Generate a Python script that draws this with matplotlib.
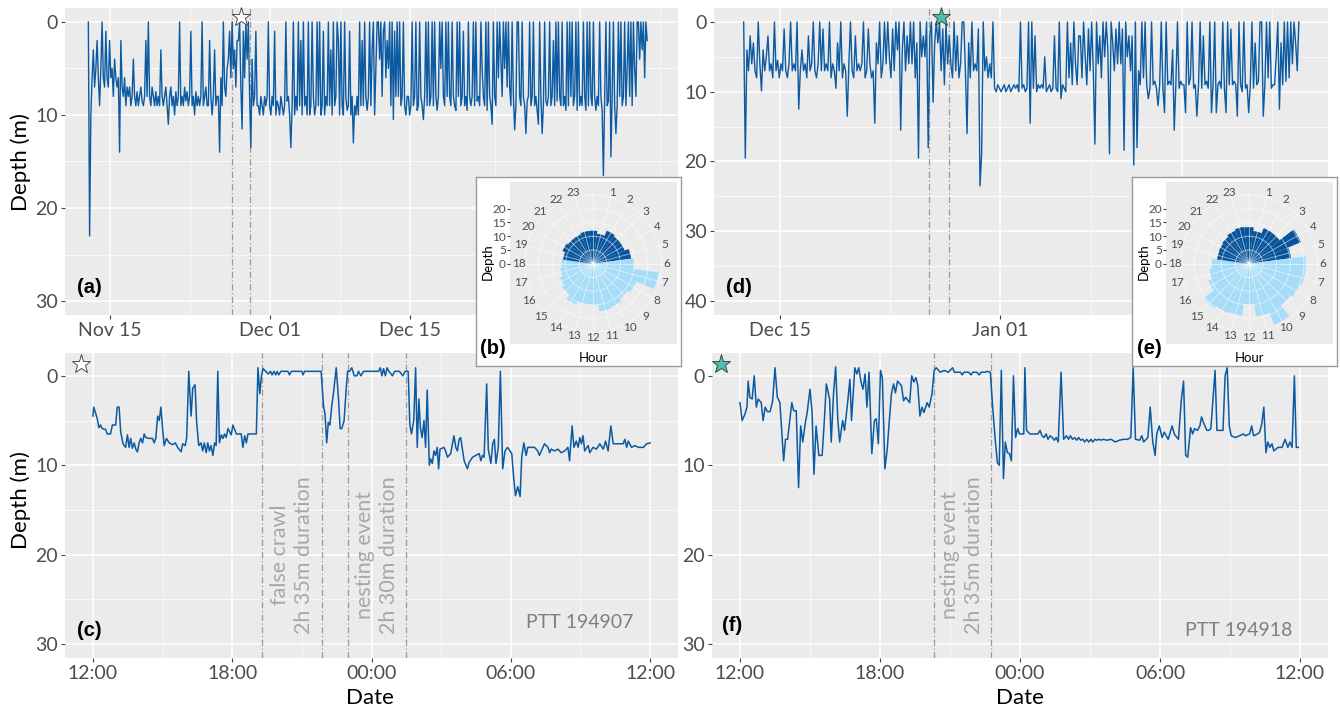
import numpy as np
import pandas as pd
import matplotlib
matplotlib.use('Agg')
import matplotlib.pyplot as plt

plt.rcParams['font.family'] = ['Lato', 'DejaVu Sans']

# ---------------- data ----------------
# (a) PTT 194907, 3-hourly depth (m) from 2019-11-12 20:00, one row per day
a_start = '2019-11-12 20:00'
a_depth = [
    0, 23, 10, 6, 3, 7, 5, 2,
    6, 9, 5, 0, 6, 7, 1, 6,
    7, 2, 6, 5, 8, 4, 6, 7,
    6, 14, 2, 7, 8, 6, 9, 7,
    8, 7, 9, 8, 4, 8, 9, 7.5,
    9, 8, 7, 8.5, 9, 8, 2, 8,
    0, 8, 9, 7, 8, 9, 7.5, 9,
    8, 9, 3, 8, 9, 8, 7, 9,
    11, 8, 7, 9, 8, 10, 7.5, 9,
    8, 0, 9, 8, 9, 7, 8.5, 7.5,
    9, 8, 1, 9, 8, 10, 7.5, 9,
    8, 9, 8, 0, 9, 8, 7, 9,
    9, 2, 8, 10, 8, 3, 9, 8,
    8, 14, 6, 9, 0, 7, 8, 5,
    4, 1, 6, 0, 5, 3, 7, 2,
    2, 0, 7, 11.5, 1, 6, 0, 4,
    0, 8, 13.5, 4, 9, 8, 1, 9,
    9, 10, 8, 9, 10, 8, 9, 8,
    0, 9, 10, 8, 9, 1, 10, 8.5,
    9, 10, 8, 9, 10, 9, 0, 8.5,
    8, 10, 13.5, 9, 0, 10, 8, 9.5,
    0, 9, 2, 10, 0, 9, 8, 10,
    0, 10, 9, 0, 8, 10, 9, 0,
    9, 0, 10, 9, 1, 10, 8, 9,
    0, 9, 3, 10, 0, 9, 8, 0,
    2, 10, 0, 9, 10, 0, 8, 9.5,
    9, 1, 10, 8, 13, 9, 10, 8,
    10, 0, 9, 2, 9, 0, 8, 9.5,
    8, 0, 9, 3, 0, 10, 5, 0,
    0, 4, 0, 8, 1, 0, 6, 2,
    5, 0, 9, 0, 10.5, 1, 8, 0,
    8, 0, 9, 8, 0, 9, 10, 8,
    8, 10, 9, 0, 9, 8, 0, 9.5,
    9, 0, 8, 9, 10.5, 8, 0, 9,
    0, 9, 8, 0, 9, 0, 8, 9.5,
    8, 0, 5, 0, 8, 9, 0, 8,
    0, 8, 9, 0, 8, 9, 9.5, 0,
    8, 0, 9, 8, 1, 9, 8, 9.5,
    0, 8, 9, 8, 0, 9, 0, 8.5,
    8, 9, 0, 5, 8, 9, 0, 9.5,
    0, 8, 9, 11, 0, 8, 9, 0,
    6, 0, 4, 8, 0, 5, 0, 7,
    0, 7, 9, 0, 8, 11.6, 9, 0,
    0, 8, 9, 0, 8, 9, 12, 8.5,
    8, 0, 9, 8, 0, 9, 8, 9.5,
    11, 0, 8, 12, 9, 0, 8.5, 9,
    8, 0, 9, 8, 2, 9, 0, 8.5,
    0, 8, 9, 0, 9, 8, 9.5, 0,
    9, 0, 8, 0, 9, 8, 0, 9.5,
    0, 9, 8, 9, 0, 8, 9.5, 0,
    9, 0, 8, 9, 0, 8, 9.5, 8,
    9, 0, 8, 9.5, 16.5, 8, 0, 9,
    8.5, 0, 14.5, 8, 0, 9, 12, 9,
    0, 8, 0, 9, 8, 0, 9, 5,
    0, 8, 0, 9, 0, 5, 8, 0,
    0, 4, 0, 3, 0, 6, 0, 2,
]
a_ticks = ['2019-11-15 00:00', '2019-12-01 00:00', '2019-12-15 00:00', '2020-01-01 00:00']
a_ticklabels = ['Nov 15', 'Dec 01', 'Dec 15', '']   # Jan 01 sits under the inset
a_minor = ['2019-11-23 00:00', '2019-12-08 00:00', '2019-12-23 12:00', '2020-01-09 00:00']
a_events = ['2019-11-27 05:00', '2019-11-28 23:00']
a_star = '2019-11-28 02:00'

# (d) PTT 194918, 3-hourly depth (m) from 2019-12-12 04:00, one row per day
d_start = '2019-12-12 04:00'
d_depth = [
    0, 19.5, 4, 7, 2, 6, 3, 7,
    8, 0, 6, 9.9, 4, 7, 5, 2,
    7, 6, 8, 0, 7, 5.5, 8, 6,
    7, 1, 7, 8, 6, 0, 7, 6,
    7, 0, 12.5, 7, 4, 7, 6, 8,
    2, 7, 6, 0, 7, 8, 6, 0,
    7, 1, 7, 6, 7, 0, 8, 6,
    7, 9.5, 3, 7, 0, 8, 6, 7,
    13.5, 6, 0, 7, 8, 2, 7, 6,
    7, 6, 0, 8, 7, 1, 6, 8,
    7, 14.5, 3, 6, 0, 8, 6, 0,
    6, 0, 5, 8, 1, 7, 0, 4,
    0, 15.5, 4, 0, 7, 2, 6, 0,
    6, 0, 8, 3, 19.5, 0, 5, 2,
    5, 0, 18, 2, 0, 11.5, 3, 0,
    3, 0, 7, 1, 9, 0, 6, 2,
    6, 8, 0, 7, 2, 8, 6, 0,
    0, 7, 16, 3, 8, 0, 7, 6,
    7, 1, 23.5, 19, 0, 7, 5, 8,
    6, 8, 0, 9.5, 10, 9, 9.5, 10,
    9.5, 9, 10, 9.5, 9, 10, 9.5, 9,
    9.5, 9, 10, 0, 9.5, 9, 10, 9.5,
    0, 14.5, 0, 9.5, 2, 10, 9, 9.5,
    9, 9.5, 5, 10, 9.5, 9, 10, 9.5,
    2, 9.5, 10, 0, 11, 9, 9.5, 10,
    0, 8, 3, 9, 0, 6, 9, 2,
    2, 8, 0, 5, 9, 1, 7, 0,
    7, 17.5, 0, 6, 2, 8, 0, 5,
    0, 4, 18.9, 0, 3, 7, 1, 6,
    0, 6, 1, 18.4, 0, 5, 2, 7,
    2, 20.5, 0, 18, 7, 9, 0, 8,
    0, 9, 11, 9.5, 0, 9, 8.5, 9.5,
    12, 9, 0, 9.5, 13, 0, 9, 8.5,
    9, 4, 15.5, 9, 0, 9.5, 8.5, 9,
    9, 13, 0, 9, 8, 0, 9.5, 9,
    13.5, 9, 0, 9.5, 2, 9, 8.5, 9.5,
    0, 13, 9, 0, 13, 9, 8.5, 9.5,
    0, 9.5, 13, 0, 9, 1, 9, 8.5,
    9, 13.5, 0, 9, 10, 0, 9.5, 9,
    13, 9, 0, 9.5, 3, 9, 8.5, 0,
    0, 13.5, 9, 0, 8, 0, 9.5, 9,
    9, 5, 0, 12.5, 3, 9, 0, 8.5,
    0, 8, 0, 6, 0, 3, 7, 0,
]
d_ticks = ['2019-12-15 00:00', '2020-01-01 00:00', '2020-01-15 00:00']
d_ticklabels = ['Dec 15', 'Jan 01', '']   # Jan 15 sits under the inset
d_minor = ['2019-12-23 12:00', '2020-01-08 00:00', '2020-01-22 00:00']
d_events = ['2019-12-26 12:00', '2019-12-28 00:00']
d_star = '2019-12-27 10:00'

# (c) 24 h of PTT 194907: (hours after 12:00, depth m)
c_points = [
    (0.00, 4.5), (0.04, 3.5), (0.19, 4.8), (0.26, 5.8), (0.33, 5.5), (0.40, 5.9), (0.55, 6.0),
    (0.62, 6.5), (0.76, 6.5), (0.84, 5.5), (0.98, 5.5), (1.05, 3.5), (1.13, 3.5), (1.20, 6.3),
    (1.30, 7.6), (1.41, 8.0), (1.49, 6.6), (1.56, 8.0), (1.63, 7.0), (1.70, 8.1), (1.78, 7.5),
    (1.85, 8.2), (1.92, 8.5), (1.99, 7.5), (2.06, 7.0), (2.14, 7.5), (2.21, 6.5), (2.28, 6.9),
    (2.42, 7.0), (2.57, 7.0), (2.64, 7.5), (2.71, 7.0), (2.79, 4.5), (2.86, 5.0), (2.93, 3.5),
    (3.00, 5.8), (3.07, 7.8), (3.17, 7.0), (3.29, 7.5), (3.43, 7.7), (3.55, 7.5), (3.65, 8.0),
    (3.80, 8.5), (3.87, 7.6), (3.98, 7.8), (4.04, 6.9), (4.13, -0.5), (4.23, 4.5), (4.30, 1.4),
    (4.40, 1.0), (4.47, 5.2), (4.56, 7.8), (4.66, 7.5), (4.73, 8.4), (4.80, 7.5), (4.88, 8.6),
    (4.95, 7.5), (5.02, 8.4), (5.09, 7.8), (5.17, 8.9), (5.24, 7.5), (5.31, 7.8), (5.38, -0.5),
    (5.45, 7.5), (5.53, 6.6), (5.60, 7.0), (5.67, 6.5), (5.74, 6.9), (5.82, 5.9), (5.96, 6.6),
    (6.03, 5.5), (6.18, 6.5), (6.39, 6.5), (6.46, 8.0), (6.54, 6.7), (6.61, 7.5), (6.68, 6.5),
    (7.04, 6.5), (7.11, -0.9), (7.19, 2.0), (7.26, 0.0), (7.33, -0.8), (7.45, -0.5), (7.55, -0.2),
    (7.65, -0.5), (7.72, -0.1), (7.80, -0.5), (7.87, -0.1), (7.94, -0.5), (8.00, -0.1), (8.10, -0.5),
    (8.40, -0.5), (8.47, -0.1), (8.55, -0.5), (9.00, -0.5), (9.05, -0.1), (9.12, -0.5), (9.83, -0.5),
    (9.93, 3.3), (10.00, 4.3), (10.07, 7.5), (10.14, 5.2), (10.21, 5.5), (10.29, 3.3), (10.36, 2.0),
    (10.48, -0.9), (10.58, 2.6), (10.65, 5.9), (10.72, 5.9), (10.82, 5.0), (10.91, 1.5), (10.97, -0.5),
    (11.05, -0.5), (11.15, -0.9), (11.26, 0.0), (11.37, 0.0), (11.44, -0.5), (11.54, 0.0), (11.66, -0.5),
    (11.80, -0.5), (12.00, -0.5), (12.30, -0.5), (12.38, -0.9), (12.45, 0.0), (12.52, -0.8), (12.60, 0.0),
    (12.67, -0.9), (12.75, -0.5), (12.90, 0.0), (13.00, -0.5), (13.20, -0.5), (13.35, 0.0), (13.45, -0.5),
    (13.58, -0.5), (13.65, 5.4), (13.72, 6.5), (13.82, 5.0), (13.90, -0.9), (13.97, 8.0), (14.04, 2.6),
    (14.11, 5.9), (14.18, 6.9), (14.26, 5.0), (14.33, 8.0), (14.40, 1.6), (14.49, 10.0), (14.55, 9.3),
    (14.62, 9.8), (14.69, 8.4), (14.76, 8.9), (14.83, 8.0), (14.89, 10.4), (14.95, 8.2), (15.12, 8.0),
    (15.19, 8.4), (15.27, 9.1), (15.41, 8.7), (15.55, 6.7), (15.63, 8.0), (15.70, 8.4), (15.77, 7.1),
    (15.84, 6.9), (15.99, 9.5), (16.13, 10.4), (16.20, 9.7), (16.35, 9.1), (16.49, 8.9), (16.64, 8.7),
    (16.71, 9.5), (16.78, 8.9), (16.85, 9.1), (16.96, 0.9), (17.03, 8.2), (17.14, 9.8), (17.22, 7.6),
    (17.29, 7.1), (17.36, 9.8), (17.46, 8.0), (17.55, -0.5), (17.65, 10.4), (17.75, 8.4), (17.86, 8.0),
    (18.04, 8.7), (18.12, 11.3), (18.20, 13.4), (18.30, 12.4), (18.40, 13.5), (18.47, 9.1), (18.56, 7.5),
    (18.66, 8.9), (18.73, 8.0), (18.87, 8.0), (19.02, 8.0), (19.16, 8.4), (19.23, 8.9), (19.38, 8.0),
    (19.45, 7.6), (19.60, 8.0), (19.67, 8.6), (19.74, 8.2), (19.88, 8.4), (20.03, 8.2), (20.17, 8.6),
    (20.32, 8.4), (20.46, 8.0), (20.53, 9.5), (20.64, 5.6), (20.72, 8.0), (20.82, 7.3), (20.90, 8.0),
    (20.97, 6.9), (21.04, 7.6), (21.11, 6.7), (21.18, 8.4), (21.33, 7.8), (21.40, 8.6), (21.54, 8.0),
    (21.69, 8.2), (21.83, 7.6), (21.98, 8.2), (22.08, 7.3), (22.19, 8.4), (22.31, 5.6), (22.41, 7.6),
    (22.63, 7.6), (22.84, 7.6), (22.91, 7.1), (22.99, 8.0), (23.06, 7.3), (23.20, 8.0), (23.35, 7.8),
    (23.49, 8.0), (23.71, 8.0), (23.85, 7.6), (24.00, 7.5),
]
c_events = [7.30, 9.88, 10.98, 13.48]
c_notes = ['false crawl\n2h 35m duration', 'nesting event\n2h 30m duration']

# (f) 24 h of PTT 194918: (hours after 12:00, depth m)
f_points = [
    (0.00, 3.0), (0.09, 5.0), (0.21, 4.3), (0.30, 3.5), (0.35, 0.6), (0.42, 2.4), (0.52, 2.6),
    (0.61, 0.0), (0.70, 3.5), (0.78, 2.6), (0.91, 3.0), (0.99, 5.0), (1.08, 3.5), (1.17, 4.0),
    (1.29, 4.0), (1.40, 2.8), (1.50, -0.9), (1.60, 2.4), (1.71, 3.0), (1.87, 9.5), (1.95, 7.1),
    (2.04, 7.1), (2.13, 5.0), (2.22, 3.0), (2.30, 3.9), (2.41, 3.9), (2.51, 12.5), (2.60, 5.6),
    (2.69, 7.4), (2.79, 5.4), (2.88, 4.1), (3.00, 1.5), (3.09, 4.1), (3.17, 11.0), (3.26, 5.6),
    (3.38, 8.9), (3.52, 8.9), (3.61, 5.2), (3.70, 0.9), (3.84, 2.6), (3.91, 7.4), (4.01, 1.9),
    (4.10, -1.0), (4.19, 4.8), (4.27, 7.4), (4.40, 5.0), (4.48, 6.1), (4.60, 3.3), (4.71, 0.4),
    (4.78, 5.0), (4.92, -0.9), (5.01, -0.2), (5.09, -0.9), (5.18, 0.6), (5.27, 1.5), (5.36, -0.2),
    (5.44, 3.5), (5.53, -0.4), (5.65, 8.7), (5.76, 5.0), (5.84, 4.8), (5.93, 7.6), (6.02, -0.6),
    (6.10, 0.2), (6.21, 10.4), (6.31, 8.2), (6.40, 5.0), (6.49, 2.0), (6.58, 0.9), (6.66, 1.9),
    (6.75, 0.6), (6.92, 1.1), (7.01, 2.8), (7.10, 2.4), (7.27, 3.0), (7.36, 0.0), (7.45, 0.7),
    (7.54, 0.2), (7.62, 1.1), (7.71, 4.5), (7.80, 3.5), (7.88, 4.1), (8.02, 3.0), (8.11, 3.5),
    (8.23, 2.0), (8.32, -0.6), (8.41, -0.9), (8.58, -0.4), (8.76, -0.6), (8.93, -0.4), (9.11, -0.9),
    (9.19, -0.4), (9.45, -0.4), (9.52, -0.1), (9.60, -0.4), (9.80, -0.4), (9.90, -0.1), (9.98, -0.4),
    (10.15, -0.4), (10.25, -0.1), (10.33, -0.4), (10.50, -0.4), (10.59, -0.5), (10.73, -0.4),
    (10.82, 3.2), (10.94, 7.2), (11.03, 9.7), (11.11, 10.0), (11.20, -0.6), (11.29, 11.5), (11.37, 7.4),
    (11.46, 8.6), (11.55, 8.7), (11.63, 9.5), (11.72, 0.0), (11.81, 6.9), (11.90, 5.9), (11.98, 6.5),
    (12.16, 6.5), (12.21, -0.9), (12.28, 6.1), (12.42, 6.5), (12.77, 6.5), (12.86, 6.1), (12.94, 6.7),
    (13.03, 6.9), (13.12, 6.5), (13.20, 7.1), (13.29, 6.7), (13.38, 6.9), (13.47, 7.2), (13.55, 6.9),
    (13.64, 7.4), (13.76, -0.4), (13.87, 7.1), (13.99, 6.7), (14.08, 7.1), (14.16, 6.7), (14.25, 7.1),
    (14.34, 6.9), (14.43, 7.2), (14.51, 6.9), (14.60, 7.2), (14.69, 7.1), (14.77, 7.4), (14.86, 7.1),
    (14.95, 7.4), (15.04, 7.1), (15.12, 7.4), (15.21, 7.1), (15.30, 7.2), (15.38, 7.1), (15.47, 7.2),
    (15.56, 7.1), (15.73, 7.2), (15.91, 7.1), (16.08, 7.4), (16.26, 7.2), (16.43, 7.1), (16.61, 7.1),
    (16.75, 6.9), (16.85, -0.9), (16.95, 7.1), (17.13, 7.2), (17.22, 6.7), (17.30, 7.4), (17.48, 6.9),
    (17.58, 3.5), (17.69, 7.4), (17.79, 8.9), (17.86, 6.5), (17.97, 5.6), (18.09, 6.9), (18.18, 6.3),
    (18.35, 7.1), (18.44, 6.3), (18.52, 5.6), (18.61, 6.5), (18.79, 7.1), (18.91, 2.8), (19.01, 0.6),
    (19.10, 8.9), (19.19, 9.1), (19.31, 5.8), (19.40, 6.5), (19.48, 5.9), (19.61, 6.1), (19.71, 5.6),
    (19.78, 4.6), (19.89, 5.4), (20.01, 6.1), (20.09, 6.1), (20.18, 5.9), (20.27, 2.6), (20.36, -0.6),
    (20.44, 6.1), (20.70, 6.1), (20.79, 0.0), (20.88, -0.9), (20.97, 5.6), (21.05, 6.7), (21.23, 6.9),
    (21.40, 6.7), (21.58, 6.5), (21.66, 6.7), (21.84, 6.5), (21.93, 5.6), (22.01, 6.7), (22.19, 6.5),
    (22.27, 6.3), (22.36, 5.4), (22.45, 3.5), (22.54, 8.6), (22.62, 7.4), (22.71, 8.0), (22.80, 7.6),
    (22.88, 8.4), (23.06, 8.0), (23.23, 8.0), (23.36, 7.1), (23.48, 8.0), (23.57, 7.4), (23.66, 8.0),
    (23.76, 0.0), (23.84, 8.0), (23.93, 8.0),
]
f_events = [8.30, 10.75]
f_notes = ['nesting event\n2h 35m duration']

# hourly mean depth for the rose insets (hour 0..23)
b_rose = [12, 11, 13, 12.5, 12.5, 14, 15, 24, 17, 16, 17, 17.5, 15, 15, 16, 14, 13, 12, 11.5, 11, 12, 11.5, 11.5, 12]
e_rose = [13.3, 12, 14, 14, 20.4, 15.4, 20.7, 20.7, 20, 19, 24, 19.3, 14.8, 19, 19.5, 20.5, 16, 14.6, 13.5, 11.7, 11.9, 12.3, 13, 13.5]
night_hours = [19, 20, 21, 22, 23, 0, 1, 2, 3, 4, 5]

hour_ticks = [0, 6, 12, 18, 24]
hour_ticklabels = ['12:00', '18:00', '00:00', '06:00', '12:00']

# ---------------- style ----------------
W, H = 1341, 708
BG = '#ebebeb'
LINE = '#0b5aa2'
TXT = '#4d4d4d'
DARK = '#07549c'
LIGHT = '#a5ddf8'
LETTER_FONT = ['Liberation Sans', 'DejaVu Sans']


def px(x, y, w, h):
    return [x / W, 1 - (y + h) / H, w / W, h / H]


def style(ax):
    ax.set_facecolor(BG)
    for s in ax.spines.values():
        s.set_visible(False)
    ax.grid(which='major', color='white', lw=1.1)
    ax.grid(which='minor', color='white', lw=0.5)
    ax.set_axisbelow(True)
    ax.tick_params(which='major', length=3, color='#444444', labelsize=14, labelcolor=TXT, pad=2)
    ax.tick_params(which='minor', length=0)


def vlines(ax, xs):
    for x in xs:
        ax.axvline(x, color='#9a9a9a', lw=0.9, ls=(0, (5, 2, 1, 2)), zorder=1.5)


fig = plt.figure(figsize=(13.41, 7.08), dpi=100)

# ---------------- top panels ----------------
top = [
    (px(65, 8, 613, 307), a_start, a_depth, a_ticks, a_ticklabels, a_minor, a_events, a_star,
     ('2019-11-10 12:00', '2020-01-10 19:00'), 31.5, -1.5, 30, '(a)', 'white'),
    (px(714, 8, 614, 307), d_start, d_depth, d_ticks, d_ticklabels, d_minor, d_events, d_star,
     ('2019-12-09 21:00', '2020-01-26 07:00'), 42, -2, 40, '(d)', '#4fbfae'),
]
for rect, start, depth, ticks, tlabels, minor, events, star, xlim, ybot, ytop, ymax, letter, starc in top:
    ax = fig.add_axes(rect)
    style(ax)
    t = pd.date_range(start, periods=len(depth), freq='3h')
    ax.plot(t, depth, color=LINE, lw=1.0, zorder=2)
    vlines(ax, pd.to_datetime(events))
    ax.plot(pd.Timestamp(star), ytop * 0.35, marker='*', ms=14, mfc=starc, mec='#333333',
            mew=0.6, clip_on=False, zorder=5)
    ax.set_xlim(pd.Timestamp(xlim[0]), pd.Timestamp(xlim[1]))
    ax.set_xticks(pd.to_datetime(ticks))
    ax.set_xticklabels(tlabels)
    ax.set_xticks(pd.to_datetime(minor), minor=True)
    ax.set_ylim(ybot, ytop)
    ax.set_yticks(np.arange(0, ymax + 1, 10))
    ax.set_yticks(np.arange(5, ymax, 10), minor=True)
    ax.text(0.04, 0.09, letter, transform=ax.transAxes, fontsize=14.5, fontweight='bold',
            family=LETTER_FONT, ha='center', va='center', color='black')

# ---------------- bottom panels ----------------
bottom = [
    (px(65, 353, 613, 305), c_points, c_events, c_notes, 'PTT 194907', (0.84, 0.115), '(c)', (0.04, 0.09),
     'white', -0.5),
    (px(712, 353, 616, 305), f_points, f_events, f_notes, 'PTT 194918', (0.855, 0.09), '(f)', (0.033, 0.105),
     '#4fbfae', -0.8),
]
for rect, points, events, notes, ptt, ptt_xy, letter, letter_xy, starc, star_x in bottom:
    ax = fig.add_axes(rect)
    style(ax)
    hours, depth = zip(*points)
    ax.plot(hours, depth, color=LINE, lw=1.1, zorder=2)
    vlines(ax, events)
    for i, note in enumerate(notes):
        mid = (events[2 * i] + events[2 * i + 1]) / 2
        ax.text(mid, 20, note, rotation=90, ha='center', va='center', multialignment='center',
                color='#a8a8a8', fontsize=15.5, linespacing=1.23)
    ax.plot(star_x, -1.3, marker='*', ms=14, mfc=starc, mec='#333333', mew=0.6, clip_on=False, zorder=5)
    ax.set_xlim(-1.2, 25.2)
    ax.set_xticks(hour_ticks)
    ax.set_xticklabels(hour_ticklabels)
    ax.set_xticks([3, 9, 15, 21], minor=True)
    ax.set_ylim(31.55, -2.55)
    ax.set_yticks([0, 10, 20, 30])
    ax.set_yticks([5, 15, 25], minor=True)
    ax.text(ptt_xy[0], ptt_xy[1], ptt, transform=ax.transAxes, fontsize=14, color='#7f7f7f',
            ha='center', va='center')
    ax.text(letter_xy[0], letter_xy[1], letter, transform=ax.transAxes, fontsize=14.5, fontweight='bold',
            family=LETTER_FONT, ha='center', va='center', color='black')

fig.text(21 / W, 1 - 162 / H, 'Depth (m)', rotation=90, ha='center', va='center', fontsize=16, color='black')
fig.text(21 / W, 1 - 500 / H, 'Depth (m)', rotation=90, ha='center', va='center', fontsize=16, color='black')
fig.text(370 / W, 1 - 698 / H, 'Date', ha='center', va='center', fontsize=16, color='black')
fig.text(1020 / W, 1 - 698 / H, 'Date', ha='center', va='center', fontsize=16, color='black')

# ---------------- rose insets ----------------
R_PX = 72
R_MAX = 26.2
for x0, rose, letter in [(476, b_rose, '(b)'), (1132, e_rose, '(e)')]:
    box = fig.add_axes(px(x0, 177, 205, 189), zorder=10)
    box.set_xticks([])
    box.set_yticks([])
    box.set_facecolor('white')
    for s in box.spines.values():
        s.set_edgecolor('#9a9a9a')
        s.set_linewidth(1.0)

    panel = fig.add_axes(px(x0 + 34, 182, 167, 162), zorder=11)
    panel.set_facecolor(BG)
    panel.set_xticks([])
    panel.set_yticks([])
    for s in panel.spines.values():
        s.set_visible(False)

    cx, cy = x0 + 117, 263.7
    pax = fig.add_axes(px(cx - R_PX, cy - R_PX, 2 * R_PX, 2 * R_PX), projection='polar', zorder=12)
    pax.set_facecolor('none')
    pax.set_theta_zero_location('N')
    pax.set_theta_direction(-1)
    theta = np.arange(24) * 2 * np.pi / 24
    colors = [DARK if h in night_hours else LIGHT for h in range(24)]
    pax.bar(theta, rose, width=2 * np.pi / 24, color=colors, edgecolor='none', zorder=1)
    pax.set_ylim(0, R_MAX)
    pax.set_xticks(theta)
    pax.set_xticklabels([])
    for h in range(1, 24):
        pax.text(theta[h], 27.0, str(h), ha='center', va='center', fontsize=8.5, color=TXT, clip_on=False)
    pax.set_yticks([5, 10, 15, 20, 25])
    pax.set_yticklabels([])
    pax.grid(color='white', lw=0.6, alpha=0.6)
    pax.set_axisbelow(False)
    pax.spines['polar'].set_visible(False)

    rax = fig.add_axes(px(x0 + 34, cy - R_PX, 0.5, R_PX), zorder=12)
    rax.set_facecolor('none')
    for s in rax.spines.values():
        s.set_visible(False)
    rax.set_xticks([])
    rax.set_ylim(0, R_MAX)
    rax.set_yticks([0, 5, 10, 15, 20])
    rax.tick_params(axis='y', length=2, color='#444444', labelsize=8.5, labelcolor=TXT, pad=1)

    fig.text((x0 + 12) / W, 1 - 262 / H, 'Depth', rotation=90, ha='center', va='center', fontsize=9.5,
             color='black', zorder=20)
    fig.text((x0 + 118) / W, 1 - 358 / H, 'Hour', ha='center', va='center', fontsize=9.5,
             color='black', zorder=20)
    fig.text((x0 + 17) / W, 1 - 349 / H, letter, ha='center', va='center', fontsize=14.5,
             fontweight='bold', family=LETTER_FONT, color='black', zorder=20)

fig.savefig('out.png', dpi=100)
